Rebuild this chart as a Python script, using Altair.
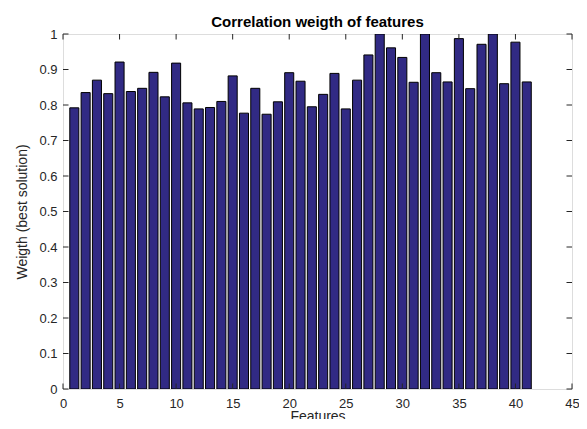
import altair as alt
import pandas as pd

features = list(range(1, 42))
weights = [0.792, 0.835, 0.870, 0.832, 0.921, 0.838, 0.847, 0.892, 0.823, 0.918,
           0.806, 0.789, 0.793, 0.810, 0.882, 0.777, 0.847, 0.774, 0.809, 0.891,
           0.867, 0.795, 0.830, 0.889, 0.789, 0.870, 0.941, 1.000, 0.961, 0.934,
           0.864, 1.000, 0.891, 0.865, 0.987, 0.846, 0.971, 1.000, 0.860, 0.977,
           0.865]
x_ticks = [0, 5, 10, 15, 20, 25, 30, 35, 40, 45]
y_ticks = [0, 0.1, 0.2, 0.3, 0.4, 0.5, 0.6, 0.7, 0.8, 0.9, 1.0]

FONT = "Liberation Sans"
TXT = "#262626"
W, H = 509, 355

df = pd.DataFrame({"feature": features, "weight": weights})
xt = pd.DataFrame({"t": x_ticks})
yt = pd.DataFrame({"t": y_ticks})

xs = alt.Scale(domain=[0, 45], nice=False, zero=False)
ys = alt.Scale(domain=[0, 1], nice=False)

x_axis = alt.Axis(values=x_ticks, title="Features", ticks=False, domain=False,
                  grid=False, labelPadding=8, labelFontSize=13, labelFont=FONT,
                  labelColor=TXT, labelFlush=False, labelOverlap=False,
                  titleFont=FONT, titleFontSize=14, titleFontWeight="normal",
                  titleColor=TXT, titleY=20, titleBaseline="top")
y_axis = alt.Axis(values=y_ticks, format="~g", title="Weigth (best solution)",
                  ticks=False, domain=False, grid=False, labelPadding=6,
                  labelFontSize=13, labelFont=FONT, labelColor=TXT,
                  labelOverlap=False, labelFlush=False,
                  titleFont=FONT, titleFontSize=14, titleFontWeight="normal",
                  titleColor=TXT, titleX=-41, titleY=H / 2, titleAngle=-90,
                  titleBaseline="middle")

bars = alt.Chart(df).transform_calculate(
    x0="datum.feature - 0.4", x1="datum.feature + 0.4", base="0"
).mark_bar(color="#312A84", stroke="black", strokeWidth=1, clip=True).encode(
    x=alt.X("x0:Q", scale=xs, axis=x_axis),
    x2="x1:Q",
    y=alt.Y("weight:Q", scale=ys, axis=y_axis),
    y2="base:Q",
)

tick_len_y = 5.5 / H
tick_len_x = 5.5 / W * 45

def tick_layer(frame, a, b, vertical):
    base = alt.Chart(frame).transform_calculate(a=str(a), b=str(b)).mark_rule(
        color=TXT, strokeWidth=1)
    if vertical:
        return base.encode(x=alt.X("t:Q", scale=xs, axis=x_axis),
                           y=alt.Y("a:Q", scale=ys, axis=y_axis), y2="b:Q")
    return base.encode(y=alt.Y("t:Q", scale=ys, axis=y_axis),
                       x=alt.X("a:Q", scale=xs, axis=x_axis), x2="b:Q")

xb = tick_layer(xt, 0, tick_len_y, True)
xtop = tick_layer(xt, 1 - tick_len_y, 1, True)
yl = tick_layer(yt, 0, tick_len_x, False)
yr = tick_layer(yt, 45 - tick_len_x, 45, False)

chart = alt.layer(bars, xb, xtop, yl, yr).properties(
    width=W, height=H,
    title=alt.TitleParams("Correlation weigth of features", font=FONT, fontSize=15,
                          fontWeight="bold", color="black", anchor="middle",
                          offset=-1.5),
    autosize=alt.AutoSizeParams(type="none"),
    padding={"left": 55, "top": 26, "right": 7, "bottom": 30},
).configure_view(stroke=TXT, strokeWidth=1.5).configure(background="white")

chart.save("out.html", embed_options={"renderer": "svg", "actions": False})
